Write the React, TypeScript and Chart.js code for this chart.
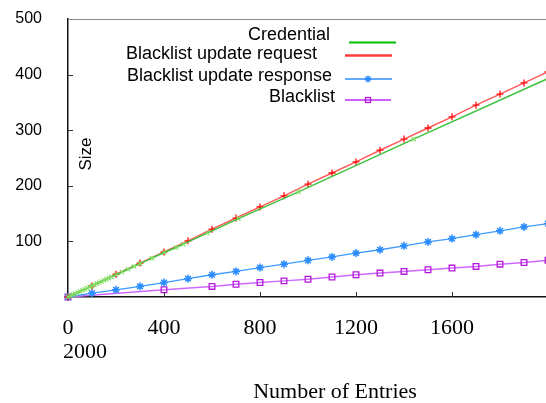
import React, { useEffect, useRef } from 'react';
import { Chart, registerables } from 'chart.js';

Chart.register(...registerables);

// ---- data ----
const seriesLabels = ['Credential', 'Blacklist update request', 'Blacklist update response', 'Blacklist'];

const credentialX = [0, 10, 20, 30, 40, 50, 60, 70, 80, 90, 100, 110, 120, 130, 140, 150, 160, 170, 180, 200, 225, 250, 275, 300, 350, 400, 450, 480, 580, 710, 960, 1440, 2000];
const credentialY = [0, 2, 4, 6, 8, 10, 12, 14, 16, 18, 20, 22, 24, 26, 28, 30, 32, 34, 36, 40, 45, 50, 55, 60, 70, 80, 89, 95, 115, 141, 189, 284, 393];

const requestX = [0, 100, 200, 300, 400, 500, 600, 700, 800, 900, 1000, 1100, 1200, 1300, 1400, 1500, 1600, 1700, 1800, 1900, 2000];
const requestY = [0, 20, 41, 61, 81, 101, 122, 142, 162, 182, 203, 223, 243, 264, 284, 304, 324, 345, 365, 385, 405];

const responseX = [0, 100, 200, 300, 400, 500, 600, 700, 800, 900, 1000, 1100, 1200, 1300, 1400, 1500, 1600, 1700, 1800, 1900, 2000];
const responseY = [0, 7, 13, 19, 26, 33, 40, 46, 53, 59, 66, 72, 79, 85, 92, 99, 105, 112, 119, 126, 132];

const blacklistX = [0, 400, 600, 700, 800, 900, 1000, 1100, 1200, 1300, 1400, 1500, 1600, 1700, 1800, 1900, 2000];
const blacklistY = [0, 13, 19, 23, 26, 29, 32, 36, 40, 43, 46, 49, 52, 55, 59, 62, 66];

const xTickLabels = ['0', '400', '800', '1200', '1600', '2000'];
const yTickLabels = ['', '100', '200', '300', '400', '500'];
const xTitle = 'Number of Entries';
const yTitle = 'Size';

const colors = {
  credLine: '#3cc23c',
  credPoint: '#7fdc5f',
  reqLine: '#ff5a5a',
  reqPoint: '#ff1010',
  respLine: '#3b9bff',
  respPoint: '#2a8cff',
  blLine: '#d069ff',
  blPoint: '#b418d8',
};

const toPts = (xs: number[], ys: number[]) => xs.map((x, i) => ({ x, y: ys[i] }));

const SERIF = '"Liberation Serif", "Times New Roman", serif';
const SANS = '"Liberation Sans", Arial, sans-serif';

const overlayPlugin = {
  id: 'overlay',
  afterDraw(chart: any) {
    const { ctx, chartArea } = chart;
    const xs = chart.scales.x;
    const ys = chart.scales.y;
    ctx.save();
    // top frame line
    ctx.strokeStyle = '#8a8a8a';
    ctx.lineWidth = 1;
    ctx.beginPath();
    ctx.moveTo(chartArea.left, chartArea.top + 0.5);
    ctx.lineTo(chartArea.right, chartArea.top + 0.5);
    ctx.stroke();

    // inward tick marks
    ctx.strokeStyle = '#333';
    ctx.lineWidth = 1;
    [100, 200, 300, 400].forEach((v) => {
      const py = Math.round(ys.getPixelForValue(v)) + 0.5;
      ctx.beginPath();
      ctx.moveTo(chartArea.left, py);
      ctx.lineTo(chartArea.left + 5, py);
      ctx.stroke();
    });
    [400, 800, 1200, 1600].forEach((v) => {
      const px = Math.round(xs.getPixelForValue(v)) + 0.5;
      ctx.beginPath();
      ctx.moveTo(px, chartArea.bottom);
      ctx.lineTo(px, chartArea.bottom - 5);
      ctx.stroke();
    });

    // wrapped last x label
    ctx.fillStyle = '#000';
    ctx.font = `22px ${SERIF}`;
    ctx.textAlign = 'left';
    ctx.textBaseline = 'middle';
    ctx.fillText(xTickLabels[5], 63, 352);

    // x title
    ctx.textAlign = 'center';
    ctx.fillText(xTitle, 335, 392);

    // y title (rotated, inside plot)
    ctx.save();
    ctx.translate(86, 154);
    ctx.rotate(-Math.PI / 2);
    ctx.font = `17px ${SANS}`;
    ctx.textAlign = 'center';
    ctx.textBaseline = 'middle';
    ctx.fillText(yTitle, 0, 0);
    ctx.restore();

    // legend
    const textRight = [330, 317, 332, 335];
    const textY = [35, 54, 76, 97];
    const lineY = [42.5, 55.5, 79, 100];
    const lineX0 = [349, 345, 345, 345];
    const lineX1 = [396, 392, 392, 391];
    const lineCols = ['#00c000', '#ff3c3c', '#2f8fff', '#d060ff'];
    const lineW = [2, 2.5, 1.3, 2];
    ctx.font = `18px ${SANS}`;
    ctx.textAlign = 'right';
    ctx.textBaseline = 'middle';
    seriesLabels.forEach((lab, i) => {
      ctx.fillStyle = '#000';
      ctx.fillText(lab, textRight[i], textY[i]);
      ctx.strokeStyle = lineCols[i];
      ctx.lineWidth = lineW[i];
      ctx.beginPath();
      ctx.moveTo(lineX0[i], lineY[i]);
      ctx.lineTo(lineX1[i], lineY[i]);
      ctx.stroke();
    });
    // legend markers
    const mx = 368;
    ctx.strokeStyle = colors.respPoint;
    ctx.lineWidth = 1.3;
    const r = 3.5;
    const cy = lineY[2];
    ctx.beginPath();
    ctx.moveTo(mx - r, cy); ctx.lineTo(mx + r, cy);
    ctx.moveTo(mx, cy - r); ctx.lineTo(mx, cy + r);
    const d = r * 0.7;
    ctx.moveTo(mx - d, cy - d); ctx.lineTo(mx + d, cy + d);
    ctx.moveTo(mx - d, cy + d); ctx.lineTo(mx + d, cy - d);
    ctx.stroke();
    ctx.strokeStyle = colors.blPoint;
    ctx.lineWidth = 1.3;
    ctx.strokeRect(mx - 2.5, lineY[3] - 2.5, 5, 5);

    ctx.restore();
  },
};

export default function App() {
  const ref = useRef<HTMLCanvasElement | null>(null);

  useEffect(() => {
    if (!ref.current) return;
    const chart = new Chart(ref.current, {
      type: 'line',
      data: {
        datasets: [
          {
            label: seriesLabels[0],
            data: toPts(credentialX, credentialY),
            borderColor: colors.credLine,
            borderWidth: 1.5,
            pointStyle: 'crossRot',
            pointRadius: 3,
            pointBorderColor: colors.credPoint,
            pointBorderWidth: 1.2,
            backgroundColor: 'transparent',
            tension: 0,
            clip: false,
          },
          {
            label: seriesLabels[1],
            data: toPts(requestX, requestY),
            borderColor: colors.reqLine,
            borderWidth: 1.5,
            pointStyle: 'cross',
            pointRadius: 3.5,
            pointBorderColor: colors.reqPoint,
            pointBorderWidth: 1.3,
            backgroundColor: 'transparent',
            tension: 0,
            clip: false,
          },
          {
            label: seriesLabels[2],
            data: toPts(responseX, responseY),
            borderColor: colors.respLine,
            borderWidth: 1.3,
            pointStyle: 'star',
            pointRadius: 4,
            pointBorderColor: colors.respPoint,
            pointBorderWidth: 1.5,
            backgroundColor: 'transparent',
            tension: 0,
            clip: false,
          },
          {
            label: seriesLabels[3],
            data: toPts(blacklistX, blacklistY),
            borderColor: colors.blLine,
            borderWidth: 1.5,
            pointStyle: 'rect',
            pointRadius: 4,
            pointBorderColor: colors.blPoint,
            pointBorderWidth: 1.3,
            pointBackgroundColor: 'rgba(255,255,255,0)',
            backgroundColor: 'transparent',
            tension: 0,
            clip: false,
          },
        ],
      },
      options: {
        animation: false,
        responsive: false,
        events: [],
        layout: { padding: { top: 19, right: 12, left: 0, bottom: 0 } },
        plugins: { legend: { display: false }, tooltip: { enabled: false } },
        scales: {
          x: {
            type: 'linear',
            min: 0,
            max: 2000,
            grid: { display: false, drawTicks: true, tickLength: 16 },
            border: { display: true, color: '#111', width: 1.5 },
            ticks: {
              stepSize: 400,
              autoSkip: false,
              maxRotation: 0,
              padding: 2,
              color: '#000',
              font: { family: SERIF, size: 22 },
              callback: (v: any) => {
                const idx = Math.round(Number(v) / 400);
                return idx >= 5 ? '' : xTickLabels[idx];
              },
            },
            afterFit: (s: any) => { s.height = 106; },
          },
          y: {
            min: 0,
            max: 500,
            grid: { display: false, drawTicks: true, tickLength: 24 },
            border: { display: true, color: '#111', width: 1.5 },
            ticks: {
              stepSize: 100,
              padding: 2,
              color: '#000',
              font: { family: SANS, size: 16 },
              callback: (v: any) => yTickLabels[Math.round(Number(v) / 100)] ?? '',
            },
            afterFit: (s: any) => { s.width = 68; },
          },
        },
      },
      plugins: [overlayPlugin],
    });
    return () => chart.destroy();
  }, []);

  return (
    <div style={{ position: 'fixed', left: 0, top: 0, width: 546, height: 403, overflow: 'hidden', background: '#fff' }}>
      <canvas ref={ref} width={560} height={403} style={{ display: 'block', width: 560, height: 403 }} />
    </div>
  );
}
